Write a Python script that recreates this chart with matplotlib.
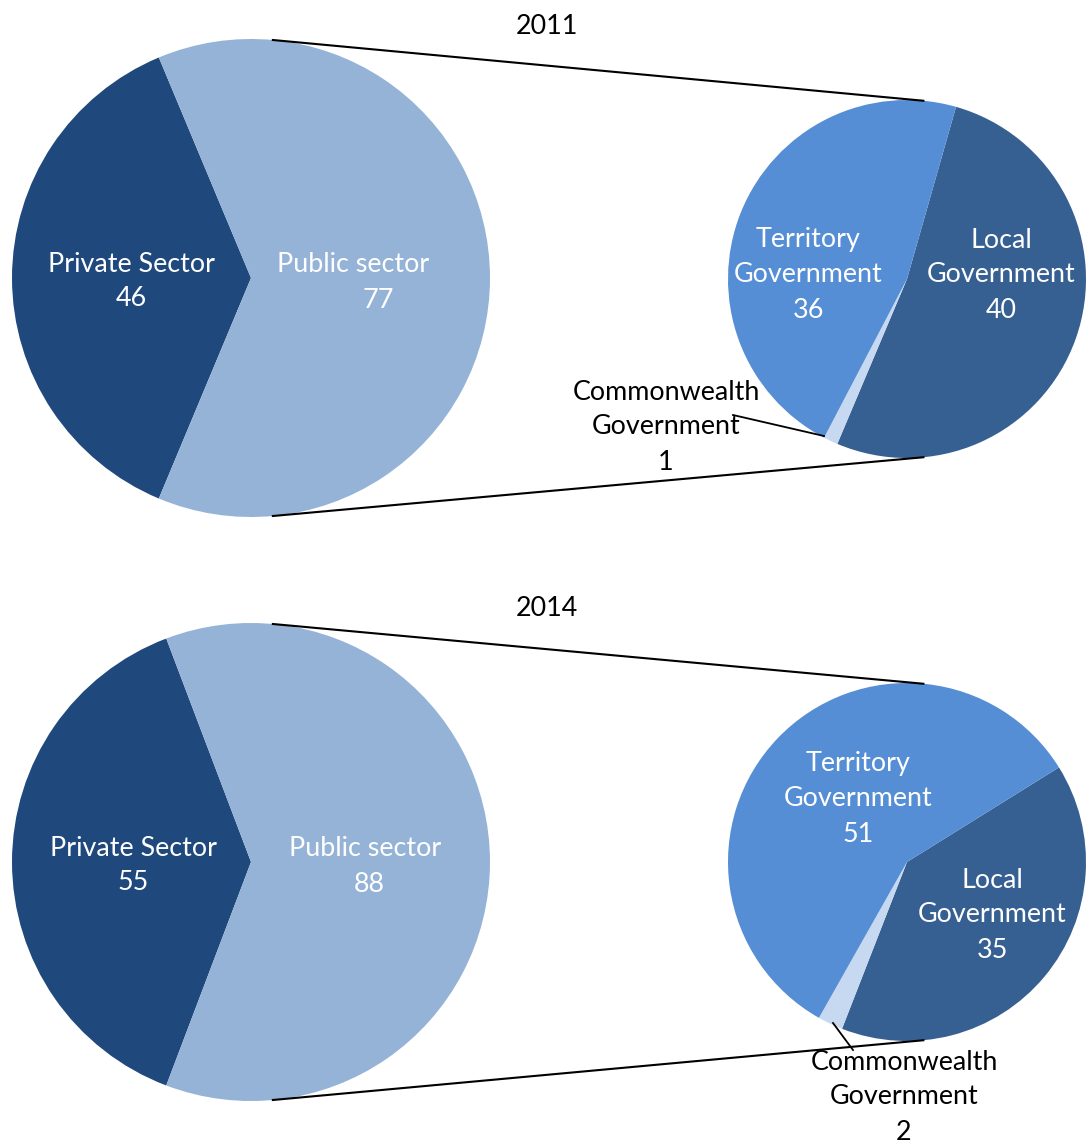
import numpy as np
import matplotlib
matplotlib.use('Agg')
from matplotlib import pyplot as plt

plt.rcParams['font.family'] = ['Lato', 'DejaVu Sans']

# data
years = ['2011', '2014']
main_labels = ['Private Sector', 'Public sector']
main_values = [[46, 77], [55, 88]]
sub_labels = ['Local\nGovernment', 'Commonwealth\nGovernment', 'Territory\nGovernment']
sub_values = [[40, 1, 36], [35, 2, 51]]

main_colors = ['#1F497D', '#95B3D7']
sub_colors = ['#376092', '#C6D9F1', '#558ED5']

W, H = 1086, 1144
fig = plt.figure(figsize=(W / 100, H / 100), dpi=100)
ax = fig.add_axes([0, 0, 1, 1])

fs = 19.4
R1, R2 = 239, 179
lh = 35  # line height in px

# layout for each panel (image coords, y downwards)
layout = [
    dict(title=(547, 24), c1=(251, 278), c2=(907, 279), sub_start=74.1,
         main_pos=[(131, 262), (353, 263, 378)],
         sub_pos=[(1001, 238), (666, 390), (808, 238)],
         leader=((733, 415), (824, 436))),
    dict(title=(547, 607), c1=(251, 862), c2=(907, 862), sub_start=31.9,
         main_pos=[(133, 846), (365, 847, 369)],
         sub_pos=[(992, 878), (904, 1060), (858, 762)],
         leader=((833, 1023), (853, 1050))),
]


def Y(y):
    return H - y - 2


def put_lines(x, y, lines, color, xs=None):
    for i, ln in enumerate(lines):
        xx = x if xs is None or i < len(lines) - 1 else xs
        ax.text(xx, Y(y + i * lh), ln, ha='center', va='center',
                fontsize=fs, color=color)


for k, lay in enumerate(layout):
    c1 = (lay['c1'][0], H - lay['c1'][1])
    c2 = (lay['c2'][0], H - lay['c2'][1])
    mv = main_values[k]
    sv = sub_values[k]

    # main pie, private slice centred on the left
    start1 = 180 - 360 * mv[0] / sum(mv) / 2
    ax.pie(mv, colors=main_colors, startangle=start1, counterclock=True,
           radius=R1, center=c1, wedgeprops=dict(linewidth=0))
    # second pie for the public sector
    ax.pie(sv, colors=sub_colors, startangle=lay['sub_start'], counterclock=False,
           radius=R2, center=c2, wedgeprops=dict(linewidth=0))

    # connector lines (outer tangents)
    d = c2[0] - c1[0]
    th = np.arccos((R1 - R2) / d)
    for s in (1, -1):
        ax.plot([c1[0] + R1 * np.cos(th), c2[0] + R2 * np.cos(th)],
                [c1[1] + s * R1 * np.sin(th), c2[1] + s * R2 * np.sin(th)],
                color='black', lw=1.5)

    # leader line for the small slice
    (x0, y0), (x1, y1) = lay['leader']
    ax.plot([x0, x1], [H - y0, H - y1], color='black', lw=1.3)

    # title
    ax.text(lay['title'][0], Y(lay['title'][1]), years[k], ha='center',
            va='center', fontsize=fs, color='black')

    # main labels
    p = lay['main_pos']
    put_lines(p[0][0], p[0][1], [main_labels[0], str(mv[0])], 'white')
    put_lines(p[1][0], p[1][1], [main_labels[1], str(mv[1])], 'white', xs=p[1][2])

    # sub labels
    for j, (lab, v) in enumerate(zip(sub_labels, sv)):
        x, y = lay['sub_pos'][j]
        col = 'black' if j == 1 else 'white'
        put_lines(x, y, lab.split('\n') + [str(v)], col)

ax.set_xlim(0, W)
ax.set_ylim(0, H)
ax.set_aspect('auto')
ax.axis('off')

plt.savefig('out.png', dpi=100)
